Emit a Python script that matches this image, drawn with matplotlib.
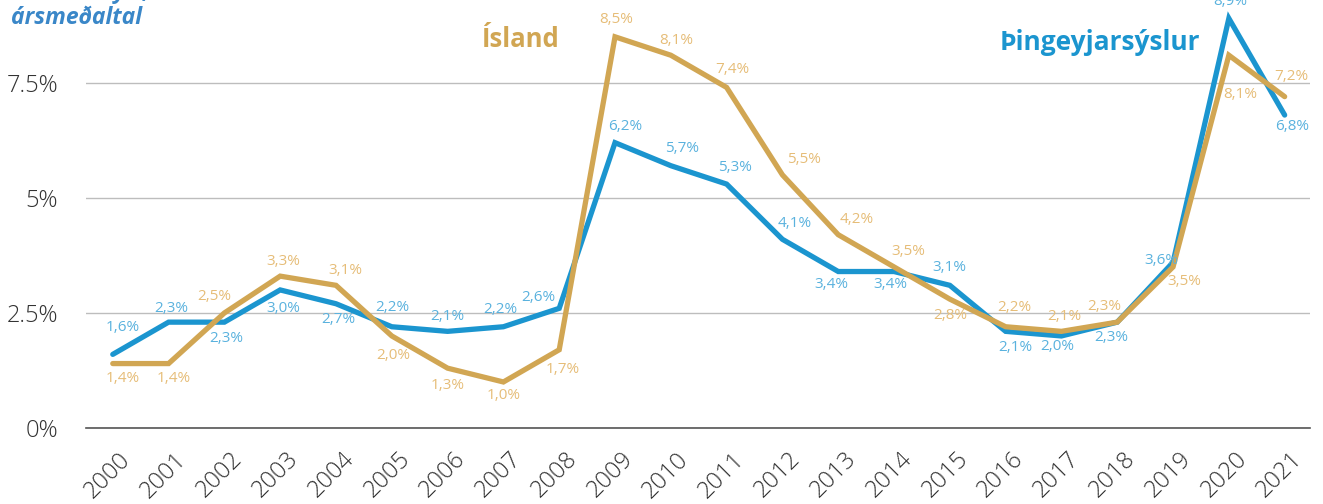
import matplotlib
matplotlib.use("Agg")
import matplotlib.pyplot as plt
import matplotlib.transforms as mtransforms

plt.rcParams['font.family'] = ['Open Sans', 'DejaVu Sans']

years = list(range(2000, 2022))
thing = [1.6, 2.3, 2.3, 3.0, 2.7, 2.2, 2.1, 2.2, 2.6, 6.2, 5.7, 5.3, 4.1, 3.4, 3.4, 3.1,
         2.1, 2.0, 2.3, 3.6, 8.9, 6.8]
island = [1.4, 1.4, 2.5, 3.3, 3.1, 2.0, 1.3, 1.0, 1.7, 8.5, 8.1, 7.4, 5.5, 4.2, 3.5, 2.8,
          2.2, 2.1, 2.3, 3.5, 8.1, 7.2]
yticks = [0, 2.5, 5, 7.5]
ytick_labels = ['0%', '2.5%', '5%', '7.5%']

# label offsets in pixels (dx, dy)
thing_off = [(10, 27), (3, 14), (2, -16), (3, -19), (2, -16), (1, 19), (0, 15), (-3, 17),
             (-21, 11), (10, 16), (11, 17), (8, 17), (12, 16), (-7, -13), (-4, -13), (0, 18),
             (10, -16), (-4, -11), (-6, -15), (-12, 2), (1, 17), (7, -11)]
island_off = [(10, -15), (5, -15), (-10, 16), (3, 15), (9, 15), (1, -20), (0, -17), (0, -14),
              (4, -20), (1, 17), (5, 15), (6, 18), (22, 15), (18, 15), (14, 15), (0, -16),
              (9, 19), (3, 15), (-13, 16), (11, -15), (11, -39), (7, 20)]

blue = '#1b95cf'
gold = '#d1a653'
blue_lbl = '#5ab2de'
gold_lbl = '#e6bd78'

fig = plt.figure(figsize=(13.23, 5.04), dpi=100)
ax = fig.add_axes([0.065, 0.1508, 0.925, 0.8492])

ax.plot(years, thing, color=blue, lw=3.8, solid_capstyle='round', solid_joinstyle='miter', zorder=3)
ax.plot(years, island, color=gold, lw=3.8, solid_capstyle='round', solid_joinstyle='miter', zorder=3)

for x, v, (dx, dy) in zip(years, thing, thing_off):
    ax.annotate(f"{v:.1f}%".replace('.', ','), (x, v), xytext=(dx, dy),
                textcoords='offset pixels', ha='center', va='center',
                fontsize=11, color=blue_lbl, zorder=4)
for x, v, (dx, dy) in zip(years, island, island_off):
    ax.annotate(f"{v:.1f}%".replace('.', ','), (x, v), xytext=(dx, dy),
                textcoords='offset pixels', ha='center', va='center',
                fontsize=11, color=gold_lbl, zorder=4)

ax.set_xlim(1999.52, 2021.45)
ax.set_ylim(0, 9.3)
ax.set_yticks(yticks)
ax.set_yticklabels(ytick_labels)
ax.set_xticks(years)
ax.set_xticklabels([str(y) for y in years], rotation=45, ha='right', rotation_mode='anchor')
ax.tick_params(axis='both', length=0, labelsize=17, colors='#333333')
ax.tick_params(axis='y', pad=20)
ax.tick_params(axis='x', pad=14)
shift = mtransforms.ScaledTranslation(6 / 100, 0, fig.dpi_scale_trans)
for lbl in ax.get_xticklabels():
    lbl.set_fontweight('light')
    lbl.set_transform(lbl.get_transform() + shift)
for lbl in ax.get_yticklabels():
    lbl.set_fontweight('light')

ax.grid(axis='y', color='#bdbdbd', lw=1)
ax.set_axisbelow(True)
for s in ['top', 'right', 'left']:
    ax.spines[s].set_visible(False)
ax.spines['bottom'].set_color('#555555')
ax.spines['bottom'].set_linewidth(1.2)

fig.text(11 / 1323, 1 - 18 / 504, 'ársmeðaltal', fontsize=16.5, fontweight='bold', style='italic',
         color='#3a87c8', va='center', ha='left')
fig.text(11 / 1323, 1 + 2 / 504, 'Atvinnuleysi,', fontsize=16.5, fontweight='bold', style='italic',
         color='#3a87c8', va='baseline', ha='left')
fig.text(521 / 1323, 1 - 40 / 504, 'Ísland', fontsize=18.5, fontweight='bold', color=gold,
         va='center', ha='center')
fig.text(1100 / 1323, 1 - 42 / 504, 'Þingeyjarsýslur', fontsize=19, fontweight='bold', color=blue,
         va='center', ha='center')

fig.savefig('out.png', dpi=100)
